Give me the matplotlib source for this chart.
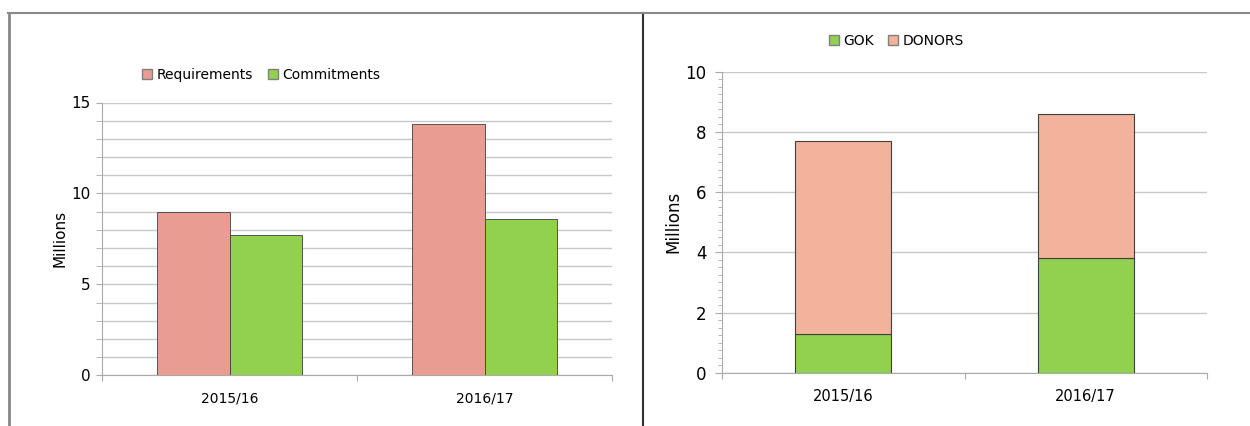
import numpy as np
import matplotlib
matplotlib.use('Agg')
import matplotlib.pyplot as plt
from matplotlib.lines import Line2D
from matplotlib.patches import Patch
from matplotlib.ticker import MultipleLocator

# data (millions)
years = ['2015/16', '2016/17']
requirements = [9.0, 13.8]
commitments = [7.7, 8.6]
gok = [1.3, 3.8]
donors = [6.4, 4.8]

PINK = '#E89C92'
GREEN = '#92D050'
SALMON = '#F2B29B'
EDGE = '#404040'
GRID = '#c8c8c8'

plt.rcParams['font.family'] = 'DejaVu Sans'

fig = plt.figure(figsize=(12.5, 4.26), dpi=100)
W, H = 1250, 426


def fx(px):
    return px / W


def fy(py):
    return 1 - py / H


# panel borders
for xs, ys, c, lw in [
    ([8, 642], [12.7, 12.7], '#888888', 1.5),
    ([8.5, 8.5], [12.7, 426], '#888888', 2),
    ([642.5, 642.5], [12.7, 426], '#303030', 1.5),
    ([643, 1250], [12.7, 12.7], '#888888', 1.5),
]:
    fig.add_artist(Line2D([fx(x) for x in xs], [fy(y) for y in ys], color=c, lw=lw))

x = np.arange(len(years))

# ---- left chart: requirements vs commitments
ax1 = fig.add_axes([fx(102), fy(375.3), fx(612) - fx(102), fy(102.5) - fy(375.3)])
bw = 0.286
ax1.bar(x - bw / 2, requirements, bw, color=PINK, edgecolor=EDGE, lw=0.6, zorder=3)
ax1.bar(x + bw / 2, commitments, bw, color=GREEN, edgecolor=EDGE, lw=0.6, zorder=3)
ax1.set_xlim(-0.5, 1.5)
ax1.set_ylim(0, 15)
ax1.yaxis.set_major_locator(MultipleLocator(5))
ax1.yaxis.set_minor_locator(MultipleLocator(1))
ax1.grid(True, which='both', axis='y', color=GRID, lw=1, zorder=0)
ax1.set_xticks([-0.5, 0.5, 1.5], minor=False)
ax1.set_xticklabels([])
ax1.set_xticks(x, minor=True)
ax1.set_xticklabels(years, minor=True, fontsize=10)
ax1.tick_params(axis='x', which='minor', length=0, pad=12)
ax1.tick_params(axis='x', which='major', length=4, color='#aaaaaa')
ax1.tick_params(axis='y', which='both', length=4, color='#aaaaaa', labelsize=11, pad=4)
for s in ['top', 'right']:
    ax1.spines[s].set_visible(False)
for s in ['left', 'bottom']:
    ax1.spines[s].set_color('#aaaaaa')
ax1.set_ylabel('Millions', fontsize=11, labelpad=3)
ax1.legend(handles=[Patch(facecolor=PINK, edgecolor='#808080', label='Requirements'),
                    Patch(facecolor=GREEN, edgecolor='#808080', label='Commitments')],
           loc='center', bbox_to_anchor=(fx(261), fy(75)), bbox_transform=fig.transFigure,
           ncol=2, frameon=False, fontsize=10,
           handlelength=0.75, handleheight=0.75, handletextpad=0.3, columnspacing=1.1)

# ---- right chart: GOK + donors stacked
ax2 = fig.add_axes([fx(722), fy(372.7), fx(1207) - fx(722), fy(71.7) - fy(372.7)])
bw2 = 0.396
ax2.bar(x, gok, bw2, color=GREEN, edgecolor=EDGE, lw=0.8, zorder=3)
ax2.bar(x, donors, bw2, bottom=gok, color=SALMON, edgecolor=EDGE, lw=0.8, zorder=3)
ax2.set_xlim(-0.5, 1.5)
ax2.set_ylim(0, 10)
ax2.yaxis.set_major_locator(MultipleLocator(2))
ax2.yaxis.set_minor_locator(MultipleLocator(0.25))
ax2.grid(True, which='major', axis='y', color=GRID, lw=1, zorder=0)
ax2.set_xticks([-0.5, 0.5, 1.5], minor=False)
ax2.set_xticklabels([])
ax2.set_xticks(x, minor=True)
ax2.set_xticklabels(years, minor=True, fontsize=10.5)
ax2.tick_params(axis='x', which='minor', length=0, pad=12)
ax2.tick_params(axis='x', which='major', length=4, color='#aaaaaa')
ax2.tick_params(axis='y', which='major', length=5, color='#aaaaaa', labelsize=12, pad=6)
ax2.tick_params(axis='y', which='minor', length=3, color='#aaaaaa')
for s in ['top', 'right']:
    ax2.spines[s].set_visible(False)
for s in ['left', 'bottom']:
    ax2.spines[s].set_color('#aaaaaa')
ax2.set_ylabel('Millions', fontsize=12, labelpad=2)
ax2.legend(handles=[Patch(facecolor=GREEN, edgecolor='#808080', label='GOK'),
                    Patch(facecolor=SALMON, edgecolor='#808080', label='DONORS')],
           loc='center', bbox_to_anchor=(fx(896), fy(41)), bbox_transform=fig.transFigure,
           ncol=2, frameon=False, fontsize=10,
           handlelength=0.75, handleheight=0.75, handletextpad=0.3, columnspacing=1.0)

fig.savefig('out.png', dpi=100)
